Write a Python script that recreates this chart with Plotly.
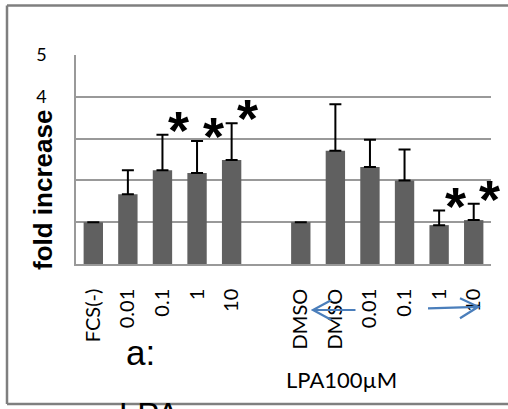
import plotly.graph_objects as go

# ---- data ----
group1_labels = ["FCS(-)", "0.01", "0.1", "1", "10"]
group1_values = [1.00, 1.67, 2.24, 2.18, 2.49]
group1_err = [0.00, 0.57, 0.85, 0.76, 0.88]

group2_labels = ["DMSO", "DMSO", "0.01", "0.1", "1", "10"]
group2_values = [1.00, 2.71, 2.32, 2.00, 0.93, 1.05]
group2_err = [0.00, 1.11, 0.65, 0.74, 0.35, 0.39]

sig_group1 = [2, 3, 4]
sig_group2 = [4, 5]

y_ticks = [0, 1, 2, 3, 4, 5]

x1 = list(range(len(group1_labels)))
x2 = [len(group1_labels) + 1 + i for i in range(len(group2_labels))]
xs = x1 + x2
vals = group1_values + group2_values
errs = group1_err + group2_err
labels = group1_labels + group2_labels
sig_x = [x1[i] for i in sig_group1] + [x2[i] for i in sig_group2]
sig_y = [group1_values[i] + group1_err[i] for i in sig_group1] + \
        [group2_values[i] + group2_err[i] for i in sig_group2]

W, H = 508, 409
L, R, T, B = 76, 17, 55, 145
PW, PH = W - L - R, H - T - B


def px(x):
    return (x - L) / PW


def py(y):
    return (H - B - y) / PH


fig = go.Figure()
fig.add_trace(go.Bar(
    x=xs, y=vals,
    marker=dict(color="#606060", line=dict(width=0)),
    error_y=dict(type="data", symmetric=False, array=errs,
                 arrayminus=[0] * len(errs), color="black",
                 thickness=2, width=6),
    showlegend=False,
))

annotations = []
for sx, sy in zip(sig_x, sig_y):
    annotations.append(dict(
        x=sx, y=sy, xref="x", yref="y", text="<b>*</b>", showarrow=False,
        font=dict(family="Liberation Sans", size=54, color="black"),
        xshift=16, yshift=5, yanchor="middle", xanchor="center"))

annotations.append(dict(
    x=px(43), y=py(190), xref="paper", yref="paper",
    text="<b>fold increase</b>", textangle=-90, showarrow=False,
    font=dict(family="Liberation Sans", size=26, color="black"),
    bgcolor="white", borderpad=2, xanchor="center", yanchor="middle"))

annotations.append(dict(
    x=px(341.5), y=py(379.5), xref="paper", yref="paper",
    text="LPA100µM", showarrow=False,
    font=dict(family="Lato", size=22, color="black"),
    xanchor="center", yanchor="middle"))

annotations.append(dict(
    x=px(140.5), y=py(352.5), xref="paper", yref="paper",
    text="a:", showarrow=False,
    font=dict(family="Liberation Sans", size=35, color="black"),
    xanchor="center", yanchor="middle"))

annotations.append(dict(
    x=px(149), y=py(414), xref="paper", yref="paper",
    text="LPA", showarrow=False,
    font=dict(family="Liberation Sans", size=33, color="black"),
    xanchor="center", yanchor="middle"))


def path(points_list):
    s = ""
    for pts in points_list:
        s += "M " + " L ".join(f"{px(a):.5f},{py(b):.5f}" for a, b in pts) + " "
    return s.strip()


border = dict(color="#7f7f7f", width=2.5)
shapes = [
    dict(type="line", xref="paper", yref="paper",
         x0=px(7), x1=px(530), y0=py(5.5), y1=py(5.5), line=border, layer="above"),
    dict(type="line", xref="paper", yref="paper",
         x0=px(7), x1=px(7), y0=py(5.5), y1=py(404), line=border, layer="above"),
    dict(type="line", xref="paper", yref="paper",
         x0=px(7), x1=px(530), y0=py(404), y1=py(404), line=border, layer="above"),
    dict(type="path", xref="paper", yref="paper",
         path=path([[(355.5, 310), (313, 310)],
                    [(331.5, 300), (313, 310), (331.5, 320)]]),
         line=dict(color="#4A7EBB", width=2.2)),
    dict(type="path", xref="paper", yref="paper",
         path=path([[(428, 308.3), (478.3, 306.8)],
                    [(460, 298.3), (478.3, 306.8), (460, 318.3)]]),
         line=dict(color="#4A7EBB", width=2.2)),
]

fig.update_layout(
    width=W, height=H,
    margin=dict(l=L, r=R, t=T, b=B, pad=0, autoexpand=False),
    paper_bgcolor="white", plot_bgcolor="white",
    bargap=0.44,
    annotations=annotations,
    shapes=shapes,
    xaxis=dict(
        range=[-0.5, 11.5], tickmode="array", tickvals=xs, ticktext=labels,
        tickangle=-90, ticks="", ticklabelstandoff=15,
        tickfont=dict(family="Lato", size=20, color="black"),
        showline=True, linecolor="#999999", linewidth=1.5,
        showgrid=False, zeroline=False, fixedrange=True, automargin=False),
    yaxis=dict(
        range=[0, 5], tickmode="array", tickvals=y_ticks,
        ticks="", ticklabelstandoff=24,
        tickfont=dict(family="Lato", size=18, color="black"),
        showgrid=True, gridcolor="#999999", gridwidth=1.5,
        showline=True, linecolor="#999999", linewidth=1.5,
        zeroline=False, fixedrange=True, automargin=False),
)

fig.write_html(
    "out.html",
    config={"displayModeBar": False},
    post_script="document.body.style.margin='0';document.body.style.overflow='hidden';",
)
